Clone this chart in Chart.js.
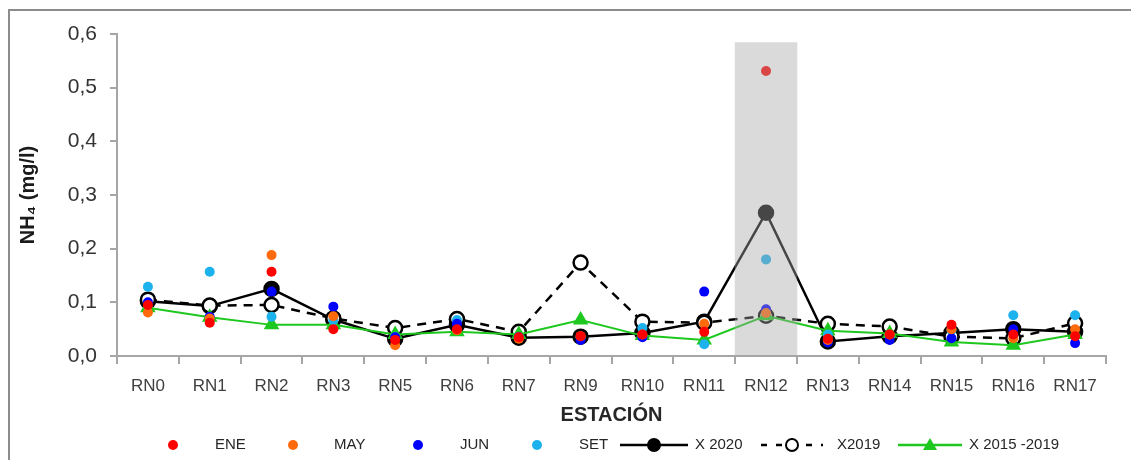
<!DOCTYPE html>
<html lang="es">
  <head>
    <meta charset="UTF-8" />
    <title>NH4 por estación</title>
    <script src="https://cdn.jsdelivr.net/npm/chart.js"></script>
    <style>
      body {
        margin: 0;
        padding: 0;
        background: #fff;
        overflow: hidden;
      }
      .frame {
        position: absolute;
        left: 8px;
        top: 9px;
        width: 1200px;
        height: 600px;
        border-left: 2px solid #8c8c8c;
        border-top: 2px solid #8c8c8c;
      }
      .wrap {
        position: absolute;
        left: 0;
        top: 0;
        width: 1131px;
        height: 460px;
      }
    </style>
  </head>
  <body>
    <div class="frame"></div>
    <div class="wrap">
      <canvas id="nh4Chart" width="1131" height="460"></canvas>
    </div>

    <script>
      const stations = ["RN0", "RN1", "RN2", "RN3", "RN5", "RN6", "RN7", "RN9",
        "RN10", "RN11", "RN12", "RN13", "RN14", "RN15", "RN16", "RN17"];

      // monthly samples 2020
      const ene = [0.095, 0.062, 0.157, 0.050, 0.030, 0.050, 0.035, 0.037,
        0.040, 0.045, 0.531, 0.032, 0.040, 0.058, 0.040, 0.037];
      const may = [0.081, 0.070, 0.188, 0.074, 0.020, 0.048, 0.032, 0.037,
        0.040, 0.060, 0.080, 0.030, 0.040, 0.050, 0.033, 0.050];
      const jun = [0.100, 0.073, 0.120, 0.092, 0.035, 0.060, 0.035, 0.030,
        0.035, 0.120, 0.087, 0.025, 0.030, 0.033, 0.050, 0.024];
      const set = [0.129, 0.157, 0.073, 0.067, 0.035, 0.067, 0.035, 0.035,
        0.052, 0.022, 0.180, 0.040, 0.036, 0.048, 0.076, 0.076];

      // averages
      const x2020 = [0.102, 0.093, 0.125, 0.068, 0.032, 0.058, 0.034, 0.036,
        0.043, 0.064, 0.267, 0.027, 0.037, 0.043, 0.050, 0.045];
      const x2019 = [0.105, 0.094, 0.095, 0.070, 0.052, 0.069, 0.045, 0.174,
        0.064, 0.062, 0.075, 0.060, 0.055, 0.036, 0.033, 0.061];
      const x20152019 = [0.090, 0.072, 0.058, 0.058, 0.040, 0.045, 0.040, 0.067,
        0.038, 0.030, 0.075, 0.047, 0.042, 0.026, 0.020, 0.040];

      // highlighted station band
      const band = [null, null, null, null, null, null, null, null,
        null, null, 0.584, null, null, null, null, null];

      const yTicks = [0, 0.1, 0.2, 0.3, 0.4, 0.5, 0.6];

      function dots(label, data, color) {
        return {
          type: "line",
          label: label,
          data: data,
          showLine: false,
          pointRadius: 5,
          pointBorderWidth: 0,
          backgroundColor: color,
          borderColor: color,
          order: 1,
        };
      }

      const legendItems = [
        { text: "ENE", dot: "#ff0000", x: 173, tx: 215 },
        { text: "MAY", dot: "#ff6a0d", x: 293, tx: 334 },
        { text: "JUN", dot: "#0000ff", x: 418, tx: 460 },
        { text: "SET", dot: "#1cb2ee", x: 537, tx: 579 },
        { text: "X 2020", line: "#000", marker: "fill", x0: 620, x1: 688, tx: 695 },
        { text: "X2019", line: "#000", marker: "open", dash: [6, 9], x0: 761, x1: 823, tx: 837 },
        { text: "X 2015 -2019", line: "#1ec81e", marker: "tri", x0: 898, x1: 962, tx: 969 },
      ];

      const legendPlugin = {
        id: "bottomLegend",
        afterDraw(chart) {
          const ctx = chart.ctx;
          const y = 445;
          ctx.save();
          ctx.font = "15px 'Liberation Sans', Arial, sans-serif";
          ctx.textBaseline = "middle";
          legendItems.forEach((it) => {
            if (it.dot) {
              ctx.beginPath();
              ctx.fillStyle = it.dot;
              ctx.arc(it.x, y, 5, 0, Math.PI * 2);
              ctx.fill();
            } else {
              const mx = (it.x0 + it.x1) / 2;
              ctx.beginPath();
              ctx.strokeStyle = it.line;
              ctx.lineWidth = 2.5;
              ctx.setLineDash(it.dash || []);
              ctx.moveTo(it.x0, y);
              ctx.lineTo(it.x1, y);
              ctx.stroke();
              ctx.setLineDash([]);
              ctx.beginPath();
              if (it.marker === "tri") {
                ctx.fillStyle = it.line;
                ctx.moveTo(mx, y - 7);
                ctx.lineTo(mx + 7, y + 5);
                ctx.lineTo(mx - 7, y + 5);
                ctx.closePath();
                ctx.fill();
              } else {
                ctx.arc(mx, y, 6, 0, Math.PI * 2);
                ctx.fillStyle = it.marker === "open" ? "#fff" : "#000";
                ctx.fill();
                ctx.lineWidth = 2;
                ctx.strokeStyle = "#000";
                ctx.stroke();
              }
            }
            ctx.fillStyle = "#262626";
            ctx.fillText(it.text, it.tx, y);
          });
          ctx.restore();
        },
      };

      const ctx = document.getElementById("nh4Chart").getContext("2d");
      const axisGray = "#a6a6a6";

      new Chart(ctx, {
        data: {
          labels: stations,
          datasets: [
            {
              type: "bar",
              label: "RN12",
              data: band,
              backgroundColor: "rgba(166,166,166,0.42)",
              barPercentage: 1,
              categoryPercentage: 1,
              order: -1,
            },
            dots("ENE", ene, "#ff0000"),
            dots("MAY", may, "#ff6a0d"),
            dots("JUN", jun, "#0000ff"),
            dots("SET", set, "#1cb2ee"),
            {
              type: "line",
              label: "X 2020",
              data: x2020,
              borderColor: "#000",
              borderWidth: 2.5,
              pointRadius: 7,
              pointBackgroundColor: "#000",
              pointBorderColor: "#000",
              order: 4,
            },
            {
              type: "line",
              label: "X2019",
              data: x2019,
              borderColor: "#000",
              borderWidth: 2.5,
              borderDash: [9, 7],
              pointRadius: 7,
              pointBackgroundColor: "#fff",
              pointBorderColor: "#000",
              pointBorderWidth: 2.5,
              order: 3,
            },
            {
              type: "line",
              label: "X 2015 -2019",
              data: x20152019,
              borderColor: "#1ec81e",
              borderWidth: 2,
              pointStyle: "triangle",
              pointRadius: 7,
              pointBackgroundColor: "#1ec81e",
              pointBorderColor: "#1ec81e",
              order: 2,
            },
          ],
        },
        options: {
          responsive: false,
          animation: false,
          layout: { padding: { left: 10, top: 34, right: 25, bottom: 0 } },
          plugins: {
            legend: { display: false },
            tooltip: { enabled: false },
          },
          scales: {
            x: {
              type: "category",
              offset: true,
              afterFit: (s) => { s.height = 104; },
              grid: {
                offset: true,
                drawOnChartArea: false,
                drawTicks: true,
                tickLength: 8,
                color: axisGray,
                lineWidth: 2,
              },
              border: { display: true, color: axisGray, width: 2 },
              ticks: {
                color: "#404040",
                padding: 12,
                font: { family: "'Liberation Sans', Arial", size: 17 },
              },
              title: {
                display: true,
                text: "ESTACIÓN",
                color: "#262626",
                padding: { top: 0, bottom: 33 },
                font: { family: "'Liberation Sans', Arial", size: 20, weight: "bold" },
              },
            },
            y: {
              min: 0,
              max: 0.6,
              afterFit: (s) => { s.width = 107; },
              afterBuildTicks: (s) => { s.ticks = yTicks.map((v) => ({ value: v })); },
              grid: {
                drawOnChartArea: false,
                drawTicks: true,
                tickLength: 7,
                color: axisGray,
                lineWidth: 2,
              },
              border: { display: true, color: axisGray, width: 2 },
              ticks: {
                color: "#333333",
                padding: 13,
                font: { family: "'Liberation Sans', Arial", size: 21 },
                callback: (v) => Number(v).toFixed(1).replace(".", ","),
              },
              title: {
                display: true,
                text: "NH₄ (mg/l)",
                color: "#1a1a1a",
                padding: { top: 6, bottom: 0 },
                font: { family: "'Liberation Sans', Arial", size: 20, weight: "bold" },
              },
            },
          },
        },
        plugins: [legendPlugin],
      });
    </script>
  </body>
</html>
